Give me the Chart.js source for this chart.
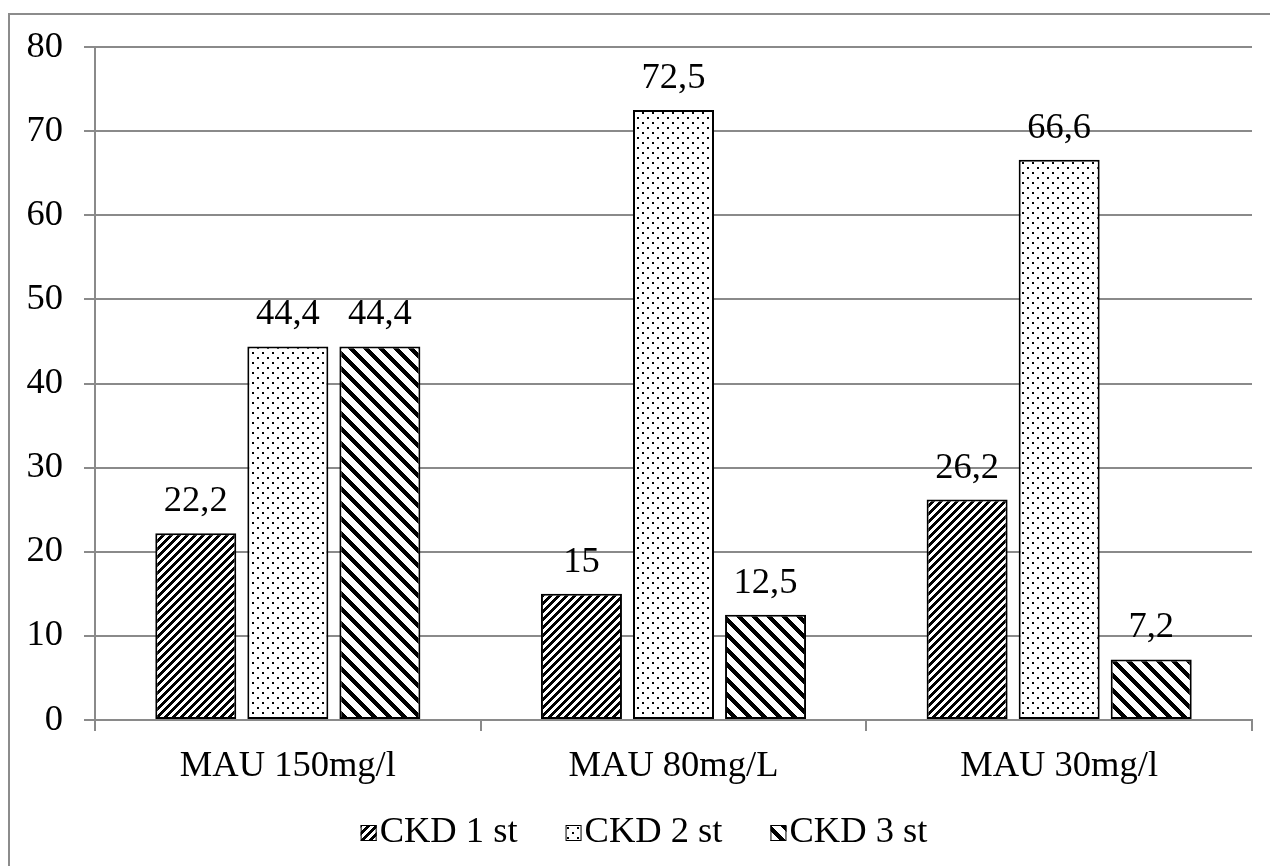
<!DOCTYPE html>
<html>
<head>
<meta charset="utf-8">
<script src="https://cdn.jsdelivr.net/npm/chart.js@4"></script>
<style>
  body { margin: 0; background: #fff; overflow: hidden; }
  #frame {
    position: absolute; left: 8px; top: 13px; width: 1400px; height: 1000px;
    border-top: 2px solid #8c8c8c; border-left: 2px solid #8c8c8c;
  }
  #chart { position: absolute; left: 0; top: 0; }
</style>
</head>
<body>
<div id="frame"></div>
<canvas id="chart" width="1270" height="866"></canvas>
<script>
// ===== DATA =====
const categories = ["MAU 150mg/l", "MAU 80mg/L", "MAU 30mg/l"];
const seriesNames = ["CKD 1 st", "CKD 2 st", "CKD 3 st"];
const ckd1 = [22.2, 15, 26.2];
const ckd2 = [44.4, 72.5, 66.6];
const ckd3 = [44.4, 12.5, 7.2];
const yTicks = [0, 10, 20, 30, 40, 50, 60, 70, 80];

const FONT = '"Liberation Serif", "Times New Roman", serif';
const SIZE = 36.5;
const GRID = "#8a8a8a";

// ===== PATTERNS =====
function makeTile(w, h, isBlack) {
  const c = document.createElement("canvas");
  c.width = w; c.height = h;
  const t = c.getContext("2d");
  t.fillStyle = "#fff";
  t.fillRect(0, 0, w, h);
  t.fillStyle = "#000";
  for (let y = 0; y < h; y++) {
    for (let x = 0; x < w; x++) {
      if (isBlack(x, y)) t.fillRect(x, y, 1, 1);
    }
  }
  return document.getElementById("chart").getContext("2d").createPattern(c, "repeat");
}

// dense upward diagonal
const upDiag = makeTile(8, 8, (x, y) => ((x + y) % 8) < 4);
// small dots
const dots = makeTile(10, 10, (x, y) =>
  (x >= 2 && x < 4 && y >= 2 && y < 4) || (x >= 7 && x < 9 && y >= 7 && y < 9));
// wide downward diagonal
const downDiag = makeTile(15, 15, (x, y) => (((x - y) % 15) + 15) % 15 < 6);

const patterns = [upDiag, dots, downDiag];

// ===== PLUGINS =====
const valueLabels = {
  id: "valueLabels",
  afterDatasetsDraw(chart) {
    const ctx = chart.ctx;
    ctx.save();
    ctx.font = SIZE + "px " + FONT;
    ctx.fillStyle = "#000";
    ctx.textAlign = "center";
    ctx.textBaseline = "alphabetic";
    chart.data.datasets.forEach((ds, i) => {
      chart.getDatasetMeta(i).data.forEach((bar, j) => {
        ctx.fillText(String(ds.data[j]).replace(".", ","), bar.x, bar.y - 22);
      });
    });
    ctx.restore();
  }
};

const bottomLegend = {
  id: "bottomLegend",
  afterDraw(chart) {
    const ctx = chart.ctx;
    const box = 16, gap = 3, spacing = 48;
    ctx.save();
    ctx.font = SIZE + "px " + FONT;
    const widths = chart.data.datasets.map(ds => box + gap + ctx.measureText(ds.label).width);
    const total = widths.reduce((a, b) => a + b, 0) + spacing * (widths.length - 1);
    let x = 644 - total / 2;
    const baseline = 842;
    chart.data.datasets.forEach((ds, i) => {
      ctx.fillStyle = ds.backgroundColor;
      ctx.fillRect(x, baseline - 17, box, box);
      ctx.strokeStyle = "#000";
      ctx.lineWidth = 1;
      ctx.strokeRect(x + 0.5, baseline - 16.5, box - 1, box - 1);
      ctx.fillStyle = "#000";
      ctx.textAlign = "left";
      ctx.textBaseline = "alphabetic";
      ctx.fillText(ds.label, x + box + gap, baseline);
      x += widths[i] + spacing;
    });
    ctx.restore();
  }
};

// ===== CHART =====
const ctx = document.getElementById("chart").getContext("2d");

const chart = new Chart(ctx, {
  type: "bar",
  data: {
    labels: categories,
    datasets: [ckd1, ckd2, ckd3].map((vals, i) => ({
      label: seriesNames[i],
      data: vals,
      backgroundColor: patterns[i],
      borderColor: "#000",
      borderWidth: 2,
      borderSkipped: false,
      categoryPercentage: 0.716,
      barPercentage: 0.88
    }))
  },
  options: {
    responsive: false,
    animation: false,
    layout: { padding: { left: 0, top: 47, right: 18, bottom: 64 } },
    plugins: {
      legend: { display: false },
      tooltip: { enabled: false }
    },
    scales: {
      x: {
        grid: { drawOnChartArea: false, drawTicks: true, tickLength: 11, color: GRID, lineWidth: 2 },
        border: { color: GRID, width: 2 },
        ticks: { color: "#000", font: { family: FONT, size: SIZE }, padding: 14, maxRotation: 0 },
        afterFit(scale) { scale.height = 82; }
      },
      y: {
        min: 0,
        max: 80,
        afterBuildTicks(scale) { scale.ticks = yTicks.map(v => ({ value: v })); },
        grid: { color: GRID, lineWidth: 2, tickLength: 11 },
        border: { color: GRID, width: 2 },
        ticks: { color: "#000", font: { family: FONT, size: SIZE }, padding: 21 },
        afterFit(scale) { scale.width = 95; }
      }
    }
  },
  plugins: [valueLabels, bottomLegend]
});
</script>
</body>
</html>
